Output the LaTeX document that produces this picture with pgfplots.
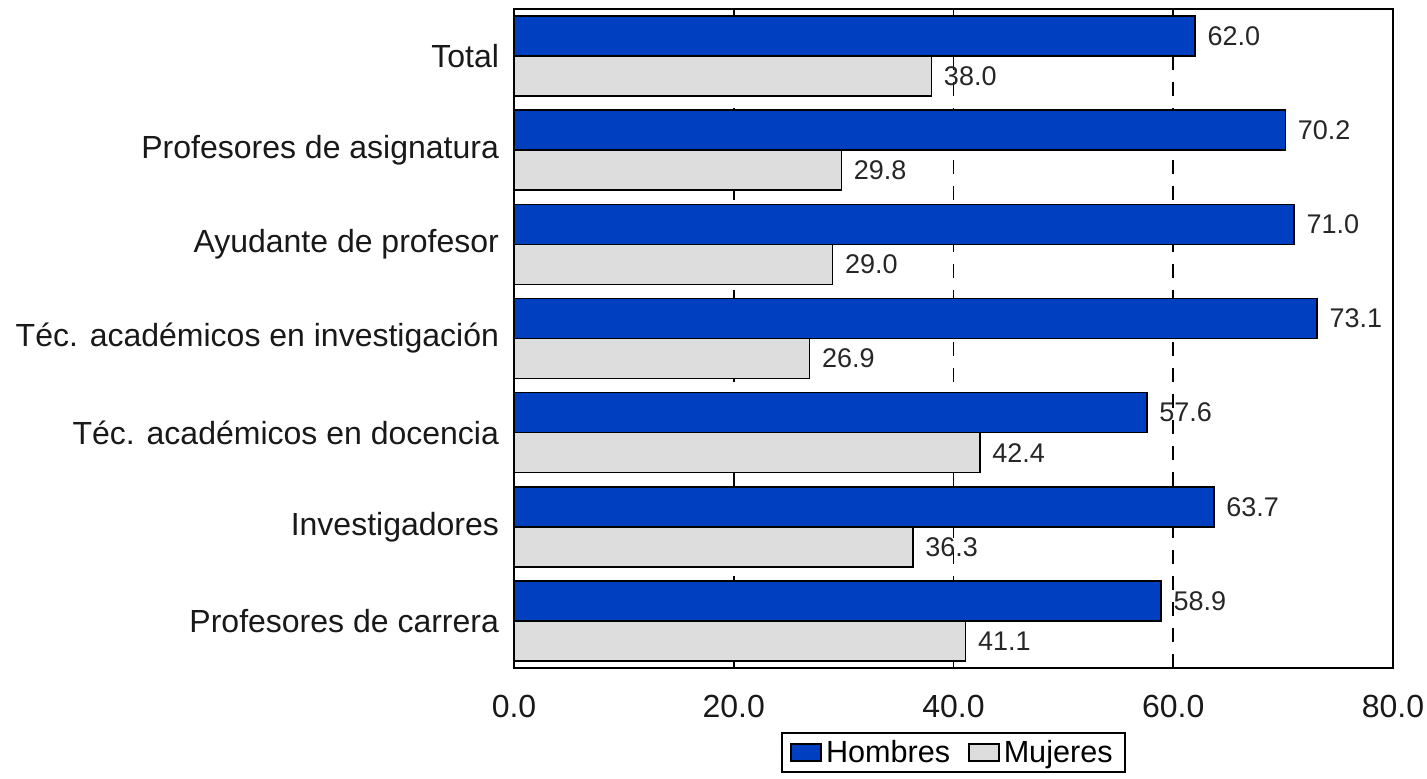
\documentclass[border=0pt]{standalone}
\usepackage{fontspec}
\setmainfont{Liberation Sans}
\usepackage{pgfplots}
\pgfplotsset{compat=1.18}
\pgfkeys{/pgf/number format/assume math mode=true}
\definecolor{hombres}{RGB}{0,64,192}
\definecolor{mujeres}{RGB}{221,221,221}
\begin{document}
\begin{tikzpicture}
\begin{axis}[
  scale only axis, width=439.5pt, height=329.5pt,
  xbar, bar width=20pt,
  xmin=0, xmax=80, ymin=-0.5, ymax=6.5,
  xtick={0,20,40,60,80},
  xticklabel={\pgfmathprintnumber[fixed,fixed zerofill,precision=1]{\tick}},
  ytick={0,1,2,3,4,5,6},
  yticklabels={Profesores de carrera, Investigadores, Téc. académicos en docencia, Téc. académicos en investigación\hspace{0.278em}, Ayudante de profesor, Profesores de asignatura, Total},
  ytick style={draw=none},
  tick align=inside,
  xtick style={black, line width=0.8pt},
  major tick length=3pt,
  xmajorgrids,
  grid style={black, line width=0.9pt, dash pattern=on 7pt off 6pt},
  axis line style={line width=1pt},
  xticklabel style={font=\fontsize{16}{19}\selectfont, inner xsep=1pt, yshift=-10pt, text=black!90},
  yticklabel style={font=\fontsize{16}{19}\selectfont, xshift=-4pt, text=black!90},
  nodes near coords={\pgfmathprintnumber[fixed,fixed zerofill,precision=1]{\pgfplotspointmeta}},
  nodes near coords style={font=\fontsize{13.5}{16}\selectfont, xshift=2.5pt, text=black!85},
  legend columns=2,
  legend style={at={(0.5,-0.097)}, anchor=north, draw=black, line width=1pt,
    font=\fontsize{15.3}{18}\selectfont, inner xsep=4pt, inner ysep=1.5pt,
    /tikz/every even column/.append style={column sep=7pt}},
  legend image code/.code={\draw[#1, line width=0.8pt] (0pt,-4.25pt) rectangle (15pt,4.25pt);},
]
\addplot[fill=hombres, draw=black, line width=0.8pt, bar shift=10pt] coordinates {
  (58.9,0) (63.7,1) (57.6,2) (73.1,3) (71.0,4) (70.2,5) (62.0,6)};
\addlegendentry{Hombres}
\addplot[fill=mujeres, draw=black, line width=0.8pt, bar shift=-10pt] coordinates {
  (41.1,0) (36.3,1) (42.4,2) (26.9,3) (29.0,4) (29.8,5) (38.0,6)};
\addlegendentry{Mujeres}
\end{axis}
\path ([xshift=-257pt,yshift=-55pt]current axis.south west) rectangle ([xshift=17pt,yshift=4.5pt]current axis.north east);
\end{tikzpicture}
\end{document}
